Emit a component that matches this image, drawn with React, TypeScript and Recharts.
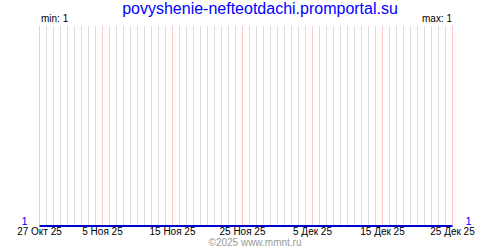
import { LineChart, Line, XAxis, YAxis, ReferenceLine } from 'recharts'

// one point per day, 27 Oct 2025 .. 25 Dec 2025
const days = [
  '2025-10-27', '2025-10-28', '2025-10-29', '2025-10-30', '2025-10-31',
  '2025-11-01', '2025-11-02', '2025-11-03', '2025-11-04', '2025-11-05',
  '2025-11-06', '2025-11-07', '2025-11-08', '2025-11-09', '2025-11-10',
  '2025-11-11', '2025-11-12', '2025-11-13', '2025-11-14', '2025-11-15',
  '2025-11-16', '2025-11-17', '2025-11-18', '2025-11-19', '2025-11-20',
  '2025-11-21', '2025-11-22', '2025-11-23', '2025-11-24', '2025-11-25',
  '2025-11-26', '2025-11-27', '2025-11-28', '2025-11-29', '2025-11-30',
  '2025-12-01', '2025-12-02', '2025-12-03', '2025-12-04', '2025-12-05',
  '2025-12-06', '2025-12-07', '2025-12-08', '2025-12-09', '2025-12-10',
  '2025-12-11', '2025-12-12', '2025-12-13', '2025-12-14', '2025-12-15',
  '2025-12-16', '2025-12-17', '2025-12-18', '2025-12-19', '2025-12-20',
  '2025-12-21', '2025-12-22', '2025-12-23', '2025-12-24', '2025-12-25',
]

const values = [
  1, 1, 1, 1, 1, 1, 1, 1, 1, 1,
  1, 1, 1, 1, 1, 1, 1, 1, 1, 1,
  1, 1, 1, 1, 1, 1, 1, 1, 1, 1,
  1, 1, 1, 1, 1, 1, 1, 1, 1, 1,
  1, 1, 1, 1, 1, 1, 1, 1, 1, 1,
  1, 1, 1, 1, 1, 1, 1, 1, 1, 1,
]

const tickDays = ['2025-10-27', '2025-11-05', '2025-11-15', '2025-11-25', '2025-12-05', '2025-12-15', '2025-12-25']
const tickLabels = ['27 Окт 25', '5 Ноя 25', '15 Ноя 25', '25 Ноя 25', '5 Дек 25', '15 Дек 25', '25 Дек 25']

const title = 'povyshenie-nefteotdachi.promportal.su'
const minValue = 1
const maxValue = 1

const data = days.map((d, i) => ({ day: d, value: values[i] }))

const font = '"Liberation Sans", Arial, sans-serif'

export default function App() {
  return (
    <div style={{ position: 'absolute', left: 0, top: 0, width: 500, height: 250, background: '#fff', fontFamily: font }}>
      <div style={{ position: 'absolute', left: 10, width: 500, top: 0, textAlign: 'center', color: '#0000ff', fontSize: 16, lineHeight: '18px' }}>
        {title}
      </div>
      <div style={{ position: 'absolute', left: 41, top: 13, fontSize: 10, lineHeight: '12px', color: '#000' }}>min: {minValue}</div>
      <div style={{ position: 'absolute', right: 48, top: 13, fontSize: 10, lineHeight: '12px', color: '#000' }}>max: {maxValue}</div>
      <div style={{ position: 'absolute', left: 0, width: 510, top: 237, textAlign: 'center', fontSize: 10, lineHeight: '12px', color: '#999' }}>
        ©2025 www.mmnt.ru
      </div>
      {/* x offsets at half pixels keep the 1px grid crisp; the 2px series line is clipped to 1px at the plot bottom */}
      <LineChart width={500} height={250} data={data} margin={{ top: 26, right: 0, bottom: 0, left: 0 }}>
        {days.map(d => (
          <ReferenceLine key={d} x={d} yAxisId="left" stroke={tickDays.includes(d) ? '#ffc8c8' : '#dddddd'} strokeWidth={1} />
        ))}
        <XAxis
          dataKey="day"
          ticks={tickDays}
          interval={0}
          tickFormatter={(v: string) => tickLabels[tickDays.indexOf(v)]}
          tickLine={false}
          axisLine={false}
          tickSize={0}
          tickMargin={2}
          height={24}
          tick={{ fill: '#000', fontSize: 10, fontFamily: font }}
        />
        <YAxis
          yAxisId="left"
          orientation="left"
          width={39.5}
          domain={[1, 2]}
          ticks={[1]}
          tickLine={false}
          axisLine={false}
          tick={{ fill: '#0000ff', fontSize: 11, fontFamily: font, dy: -5 }}
          tickMargin={6}
        />
        <YAxis
          yAxisId="right"
          orientation="right"
          width={47.5}
          domain={[1, 2]}
          ticks={[1]}
          tickLine={false}
          axisLine={false}
          tick={{ fill: '#0000ff', fontSize: 11, fontFamily: font, dy: -5 }}
          tickMargin={7}
        />
        <Line yAxisId="right" dataKey={(d: { value: number }) => d.value} stroke="transparent" dot={false} activeDot={false} legendType="none" isAnimationActive={false} />
        <Line yAxisId="left" dataKey="value" stroke="#0000cc" strokeWidth={2} dot={false} isAnimationActive={false} />
      </LineChart>
    </div>
  )
}
